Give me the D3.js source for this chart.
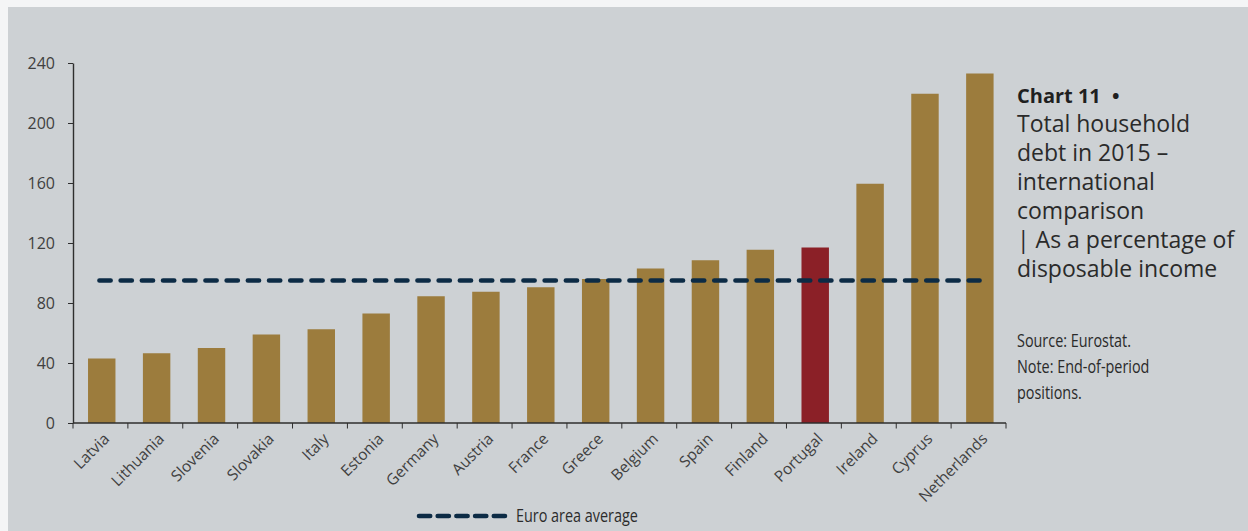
<!DOCTYPE html>
<html>
<head>
<meta charset="utf-8">
<script src="https://cdn.jsdelivr.net/npm/d3@7"></script>
<style>
  html, body { margin: 0; padding: 0; background: #f4f5f6; }
  svg { display: block; }
</style>
</head>
<body>
<svg id="chart" width="1248" height="531"></svg>
<script>
// Household debt, 2015, as % of disposable income
const countries = ["Latvia", "Lithuania", "Slovenia", "Slovakia", "Italy", "Estonia", "Germany", "Austria", "France", "Greece", "Belgium", "Spain", "Finland", "Portugal", "Ireland", "Cyprus", "Netherlands"];
const debtValues = [43, 46.5, 50, 59, 62.5, 73, 84.5, 87.5, 90.5, 96, 103, 108.5, 115.5, 117, 159.5, 219.5, 233];
const euroAreaAverage = 95;
const highlighted = ["Portugal"];
const yTicks = [0, 40, 80, 120, 160, 200, 240];

const titleLines = ["Total household", "debt in 2015 \u2013", "international", "comparison", "| As a percentage of", "disposable income"];
const noteLines = ["Source: Eurostat.", "Note: End-of-period", "positions."];
const legendLabel = "Euro area average";

const svg = d3.select("#chart");
const W = 1248, H = 531;

svg.append("rect").attr("x", 0).attr("y", 0).attr("width", W).attr("height", H).attr("fill", "#f4f5f6");
svg.append("rect").attr("x", 8).attr("y", 7).attr("width", W - 8).attr("height", H - 7).attr("fill", "#cdd1d4");

const x = d3.scaleBand().domain(countries).range([73, 1006]).paddingInner(0.5).paddingOuter(0.25);
const y = d3.scaleLinear().domain([0, 240]).range([423, 63]);

const axisColor = "#2e2e2e";
const textColor = "#404040";
const condensed = "'Open Sans', sans-serif";

// Y axis
const yAxis = svg.append("g")
  .attr("transform", "translate(73,0)")
  .call(d3.axisLeft(y).tickValues(yTicks).tickSize(5).tickSizeOuter(0).tickPadding(13));
yAxis.select(".domain").attr("stroke", axisColor).attr("stroke-width", 1.4);
yAxis.selectAll(".tick line").attr("stroke", axisColor).attr("stroke-width", 1);
yAxis.selectAll(".tick text").attr("fill", textColor).style("font-family", "'Open Sans', sans-serif").style("font-size", "16px");

// Bars
svg.append("g").selectAll("rect")
  .data(countries)
  .join("rect")
  .attr("x", d => x(d) + 1.3)
  .attr("y", (d, i) => y(debtValues[i]))
  .attr("width", x.bandwidth())
  .attr("height", (d, i) => y(0) - y(debtValues[i]))
  .attr("fill", d => highlighted.includes(d) ? "#8b2027" : "#9c7c3d");

// X axis line with ticks on category boundaries
const xStart = x.range()[0], xEnd = x.range()[1];
const boundaries = d3.range(countries.length + 1).map(i => xStart + i * x.step());
const xAxis = svg.append("g");
xAxis.append("line")
  .attr("x1", xStart).attr("x2", xEnd).attr("y1", y(0)).attr("y2", y(0))
  .attr("stroke", axisColor).attr("stroke-width", 1.6);
xAxis.selectAll("line.tk").data(boundaries).join("line")
  .attr("class", "tk")
  .attr("x1", d => d).attr("x2", d => d)
  .attr("y1", y(0)).attr("y2", y(0) + 5.5)
  .attr("stroke", axisColor).attr("stroke-width", 1);

// Rotated category labels
xAxis.selectAll("text").data(countries).join("text")
  .attr("transform", d => `translate(${x(d) + x.bandwidth() / 2 + 6},${y(0) + 13}) rotate(-45)`)
  .attr("text-anchor", "end")
  .attr("dy", "0.35em")
  .attr("fill", textColor)
  .style("font-family", "'Open Sans', sans-serif")
  .style("font-size", "15.5px")
  .text(d => d);

// Euro area average
const avgColor = "#0c2b45";
svg.append("line")
  .attr("x1", x(countries[0]) + x.bandwidth() / 2 - 1)
  .attr("x2", x(countries[countries.length - 1]) + x.bandwidth() / 2 + 1)
  .attr("y1", y(euroAreaAverage)).attr("y2", y(euroAreaAverage))
  .attr("stroke", avgColor).attr("stroke-width", 4.6)
  .attr("stroke-linecap", "round")
  .attr("stroke-dasharray", "11.2 10");

// Legend
const lg = svg.append("g").attr("transform", "translate(417,516)");
lg.append("line")
  .attr("x1", 2).attr("x2", 92).attr("y1", 0).attr("y2", 0)
  .attr("stroke", avgColor).attr("stroke-width", 4.6)
  .attr("stroke-linecap", "round")
  .attr("stroke-dasharray", "11.2 7.5");
lg.append("text")
  .attr("transform", "translate(99,6) scale(0.8,1)")
  .attr("fill", "#2b2b2b")
  .style("font-family", condensed)
  .style("font-size", "18px")
  .text(legendLabel);

// Side title
const side = svg.append("g").attr("transform", "translate(1017,0)");
const title = side.append("text")
  .attr("x", 0).attr("y", 103)
  .attr("fill", "#1f1f1f")
  .style("font-family", "'Open Sans', sans-serif")
  .style("font-size", "20px")
  .style("font-weight", "bold");
title.append("tspan").text("Chart 11 ");
title.append("tspan").attr("dx", 6).text("\u2022");

side.selectAll("text.tl").data(titleLines).join("text")
  .attr("class", "tl")
  .attr("x", 0).attr("y", (d, i) => 132 + i * 29)
  .attr("fill", "#2a2a2a")
  .style("font-family", "'Open Sans', sans-serif")
  .style("font-size", "23px")
  .text(d => d);

side.selectAll("text.nl").data(noteLines).join("text")
  .attr("class", "nl")
  .attr("transform", (d, i) => `translate(0,${347 + i * 26}) scale(0.8,1)`)
  .attr("fill", "#2a2a2a")
  .style("font-family", condensed)
  .style("font-size", "18px")
  .text(d => d);
</script>
</body>
</html>
